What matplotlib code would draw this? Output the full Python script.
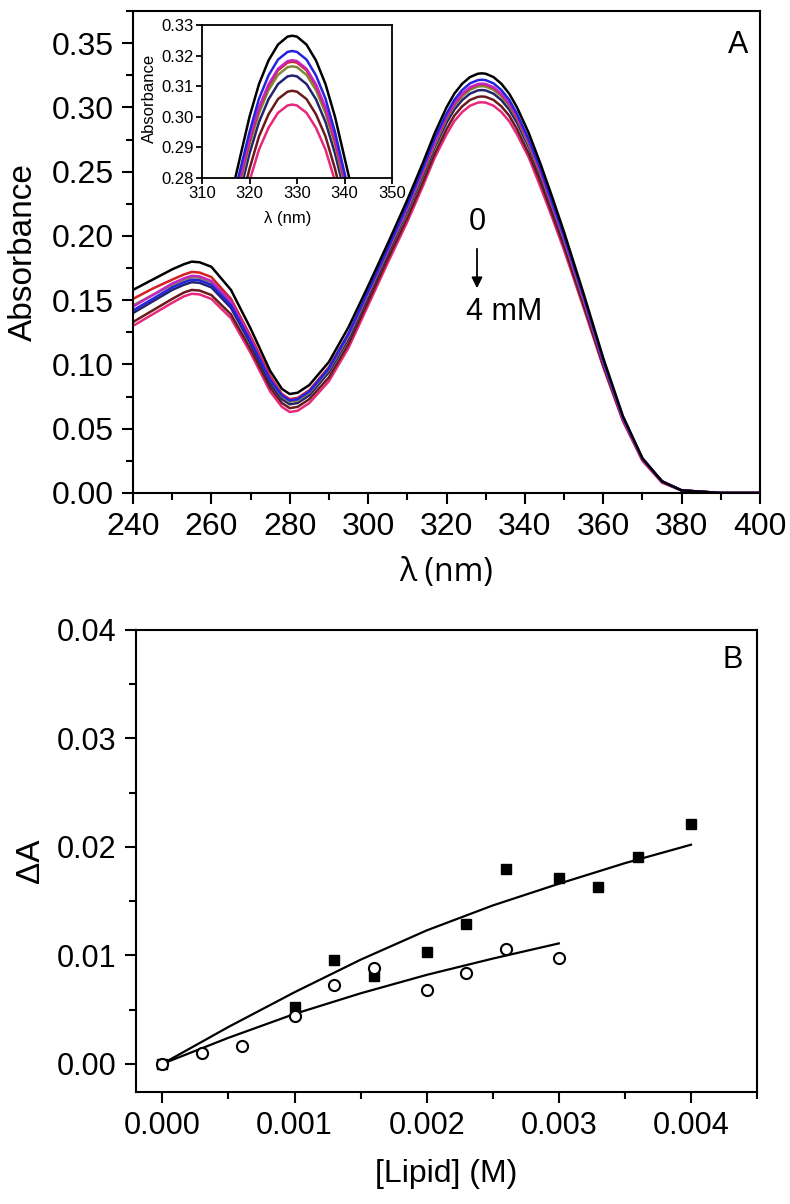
"""Absorbance spectra (A) and binding curve (B) recreated with matplotlib."""

import matplotlib
matplotlib.use("Agg")
import matplotlib.pyplot as plt
from matplotlib.ticker import MultipleLocator

# ---- data ----
wl = [240, 245, 250, 253, 255, 257, 260, 265, 270, 275, 278, 280, 282, 285, 290,
      295, 300, 305, 310, 314, 317, 320, 322, 324, 326, 328, 329, 330, 332, 334,
      336, 338, 341, 344, 347, 350, 355, 360, 365, 370, 375, 380, 390, 400]

abs_black = [.158, .166, .174, .178, .180, .1795, .176, .158, .128, .095, .081, .077, .078, .084, .102,
             .129, .161, .194, .228, .257, .280, .300, .3107, .3184, .3236, .3262, .3265, .3262, .3236, .3184,
             .3107, .300, .280, .256, .230, .203, .155, .105, .060, .027, .009, .002, .000, .000]
abs_blue = [.142, .151, .160, .164, .166, .1655, .162, .146, .118, .088, .076, .072, .073, .079, .097,
            .124, .157, .190, .224, .253, .276, .295, .3059, .3135, .3187, .3212, .3215, .3212, .3187, .3135,
            .3059, .295, .275, .252, .226, .200, .153, .103, .059, .027, .009, .002, .000, .000]
abs_magenta = [.145, .154, .163, .167, .169, .1685, .165, .149, .120, .089, .076, .072, .073, .079, .097,
               .123, .156, .189, .222, .251, .273, .293, .3031, .3106, .3157, .3182, .3185, .3182, .3157, .3106,
               .3031, .293, .273, .250, .224, .198, .151, .102, .058, .026, .009, .002, .000, .000]
abs_red = [.151, .159, .166, .170, .172, .1715, .168, .151, .122, .091, .077, .073, .074, .080, .098,
           .124, .156, .189, .222, .250, .273, .292, .3026, .3101, .3152, .3177, .318, .3177, .3152, .3101,
           .3026, .292, .273, .249, .224, .198, .151, .102, .058, .026, .009, .002, .000, .000]
abs_olive = [.146, .154, .162, .166, .168, .1675, .164, .148, .119, .088, .075, .071, .072, .078, .096,
             .122, .155, .188, .221, .249, .271, .291, .3012, .3087, .3137, .3162, .3165, .3162, .3137, .3087,
             .3012, .291, .271, .248, .223, .197, .150, .102, .058, .026, .009, .002, .000, .000]
abs_navy = [.140, .149, .158, .162, .164, .1635, .160, .144, .116, .085, .073, .069, .070, .076, .094,
            .120, .153, .186, .219, .247, .269, .288, .2983, .3057, .3107, .3132, .3135, .3132, .3107, .3057,
            .2983, .288, .269, .246, .221, .195, .149, .101, .058, .026, .009, .002, .000, .000]
abs_maroon = [.133, .142, .151, .156, .158, .1575, .154, .139, .112, .082, .070, .066, .067, .073, .090,
              .116, .149, .182, .214, .242, .264, .283, .2936, .3008, .3058, .3082, .3085, .3082, .3058, .3008,
              .2936, .283, .264, .242, .217, .192, .146, .099, .057, .026, .009, .002, .000, .000]
abs_crimson = [.130, .139, .148, .153, .155, .1545, .151, .136, .109, .079, .067, .063, .064, .070, .087,
               .113, .146, .179, .211, .239, .261, .279, .2893, .2964, .3013, .3037, .304, .3037, .3013, .2964,
               .2893, .279, .261, .238, .214, .189, .144, .098, .056, .025, .008, .002, .000, .000]

spectra = [abs_crimson, abs_maroon, abs_navy, abs_olive, abs_red, abs_magenta, abs_blue, abs_black]
colors = ["#e8287a", "#6a1a1a", "#23236e", "#7d8a3a", "#d62020", "#c425c4", "#2424dd", "#000000"]

# panel B
lipid_sq = [0.0, 0.0010, 0.0013, 0.0016, 0.0020, 0.0023, 0.0026, 0.0030, 0.0033, 0.0036, 0.0040]
dA_sq = [0.0, 0.0052, 0.0096, 0.0081, 0.0103, 0.0129, 0.0180, 0.0171, 0.0163, 0.0191, 0.0221]
lipid_ci = [0.0, 0.0003, 0.0006, 0.0010, 0.0013, 0.0016, 0.0020, 0.0023, 0.0026, 0.0030]
dA_ci = [0.0, 0.0010, 0.0016, 0.0044, 0.0073, 0.0088, 0.0068, 0.0084, 0.0106, 0.0098]

fit_x_sq = [0.0, 0.0005, 0.0010, 0.0015, 0.0020, 0.0025, 0.0030, 0.0035, 0.0040]
fit_y_sq = [0.0, 0.0034, 0.0066, 0.0096, 0.0123, 0.0146, 0.0166, 0.0185, 0.0202]
fit_x_ci = [0.0, 0.0005, 0.0010, 0.0015, 0.0020, 0.0025, 0.0030]
fit_y_ci = [0.0, 0.0024, 0.0046, 0.0065, 0.0082, 0.0097, 0.0111]

# ---- layout (pixel based) ----
W, H = 790, 1204
fig = plt.figure(figsize=(W / 100, H / 100), dpi=100)
fig.patch.set_facecolor("white")


def rect(l, t, r, b):
    return [l / W, 1 - b / H, (r - l) / W, (b - t) / H]


def fpos(x, y):
    return x / W, 1 - y / H


SANS = ["Liberation Sans", "DejaVu Sans"]


def style(ax, size, lw=1.5, major=8, minor=5, pad=4):
    for s in ax.spines.values():
        s.set_linewidth(lw)
    ax.tick_params(which="both", direction="out", top=False, right=False,
                   width=lw, labelsize=size, pad=pad)
    ax.tick_params(which="major", length=major)
    ax.tick_params(which="minor", length=minor)
    for lab in ax.get_xticklabels() + ax.get_yticklabels():
        lab.set_family(SANS)


# Panel A
axA = fig.add_axes(rect(133, 11, 760, 493))
for y, c in zip(spectra, colors):
    axA.plot(wl, y, color=c, lw=1.8, solid_joinstyle="round")
axA.set_xlim(240, 400)
axA.set_ylim(0, 0.375)
axA.xaxis.set_major_locator(MultipleLocator(20))
axA.xaxis.set_minor_locator(MultipleLocator(10))
axA.set_yticks([0, 0.05, 0.10, 0.15, 0.20, 0.25, 0.30, 0.35])
axA.set_yticklabels(["0.00", "0.05", "0.10", "0.15", "0.20", "0.25", "0.30", "0.35"])
axA.yaxis.set_minor_locator(MultipleLocator(0.025))
style(axA, 23, pad=6)

fig.text(*fpos(23, 252), "Absorbance", rotation=90, ha="center", va="center",
         fontsize=24, family=SANS)
fig.text(*fpos(446, 572), "λ (nm)", ha="center", va="center",
         fontsize=23, family=["Open Sans", "DejaVu Sans"])
fig.text(*fpos(738, 45), "A", ha="center", va="center", fontsize=22, family=SANS)

# concentration arrow
fig.text(*fpos(477, 222), "0", ha="center", va="center", fontsize=22, family=SANS)
axA.annotate("", xy=fpos(477, 291), xytext=fpos(477, 246), xycoords="figure fraction",
             textcoords="figure fraction",
             arrowprops=dict(arrowstyle="-|>", color="black", lw=1.3, mutation_scale=16))
fig.text(*fpos(466, 312), "4 mM", ha="left", va="center", fontsize=22, family=SANS)

# inset
axI = fig.add_axes(rect(202, 25, 392, 178))
for y, c in zip(spectra, colors):
    axI.plot(wl, y, color=c, lw=1.8, solid_joinstyle="round")
axI.set_xlim(310, 350)
axI.set_ylim(0.28, 0.33)
axI.set_xticks([310, 320, 330, 340, 350])
axI.set_yticks([0.28, 0.29, 0.30, 0.31, 0.32, 0.33])
axI.set_yticklabels(["0.28", "0.29", "0.30", "0.31", "0.32", "0.33"])
style(axI, 12, lw=1.3, major=4, minor=2, pad=2)
fig.text(*fpos(149, 98), "Absorbance", rotation=90, ha="center", va="center",
         fontsize=12, family=SANS)
fig.text(*fpos(288, 218), "λ (nm)", ha="center", va="center", fontsize=12, family=SANS)

# Panel B
axB = fig.add_axes(rect(136, 630, 757, 1092))
axB.plot(fit_x_sq, fit_y_sq, color="black", lw=1.6)
axB.plot(fit_x_ci, fit_y_ci, color="black", lw=1.6)
axB.plot(lipid_sq, dA_sq, "s", color="black", ms=7.5)
axB.plot(lipid_ci, dA_ci, "o", mfc="white", mec="black", mew=1.5, ms=8)
axB.set_xlim(-0.0002, 0.0045)
axB.set_ylim(-0.0026, 0.04)
axB.set_xticks([0, 0.001, 0.002, 0.003, 0.004])
axB.set_xticklabels(["0.000", "0.001", "0.002", "0.003", "0.004"])
axB.xaxis.set_minor_locator(MultipleLocator(0.0005))
axB.set_yticks([0, 0.01, 0.02, 0.03, 0.04])
axB.set_yticklabels(["0.00", "0.01", "0.02", "0.03", "0.04"])
axB.yaxis.set_minor_locator(MultipleLocator(0.005))
style(axB, 22, pad=6)

fig.text(*fpos(30, 861), "ΔA", rotation=90, ha="center", va="center",
         fontsize=24, family=SANS)
fig.text(*fpos(446, 1174), "[Lipid] (M)", ha="center", va="center",
         fontsize=23, family=SANS)
fig.text(*fpos(733, 660), "B", ha="center", va="center", fontsize=22, family=SANS)

fig.savefig("out.png", dpi=100, facecolor="white")
